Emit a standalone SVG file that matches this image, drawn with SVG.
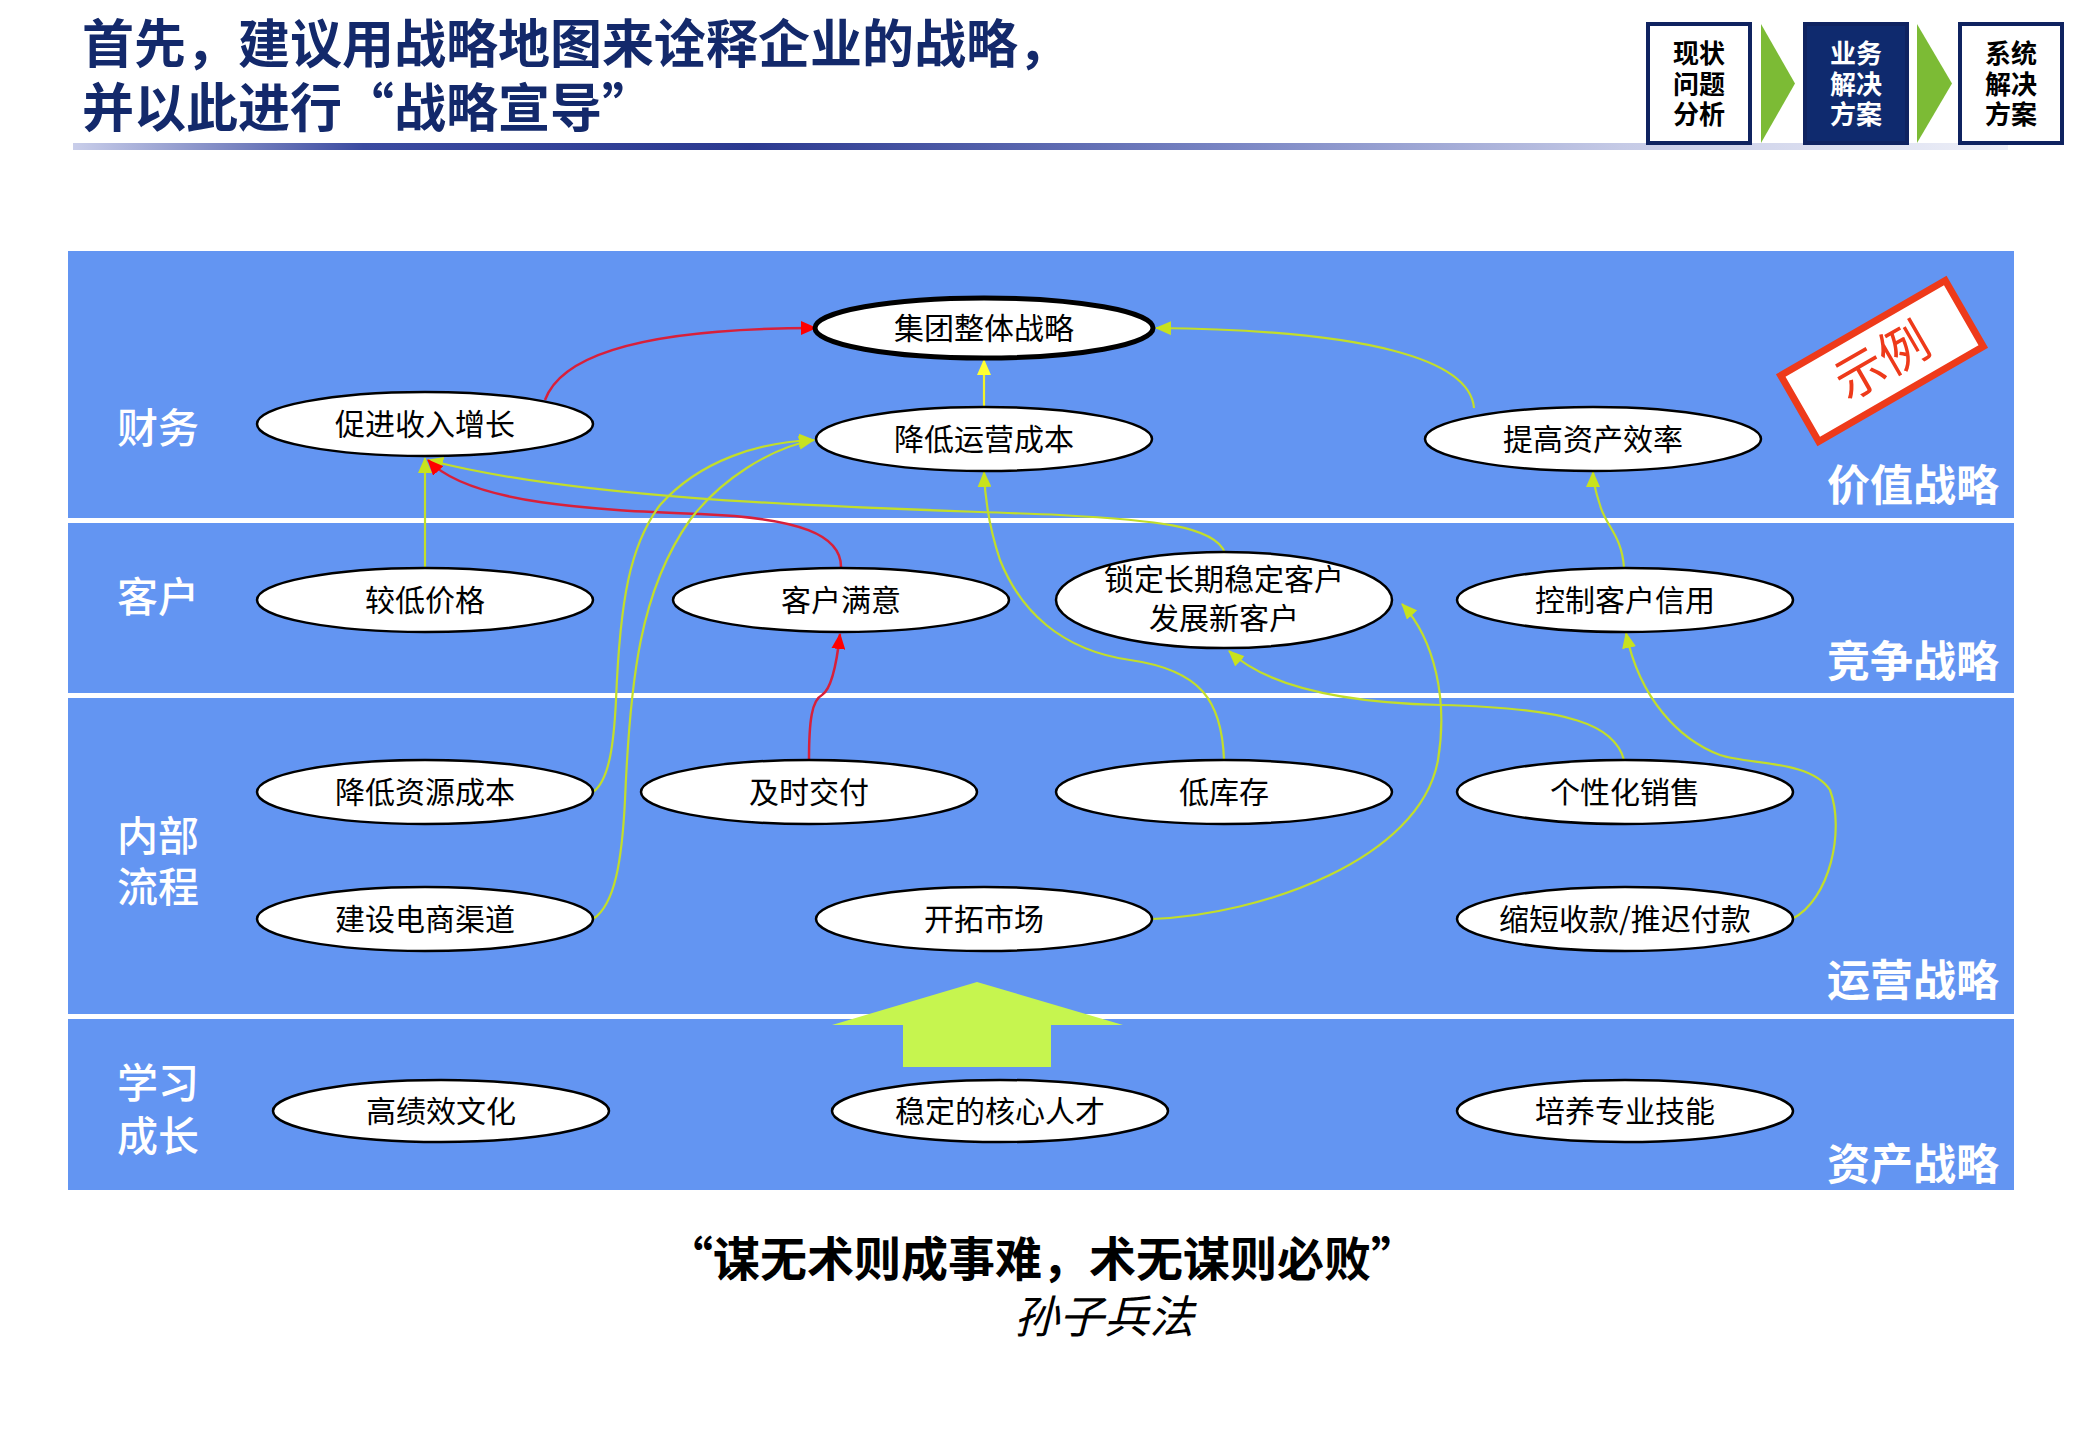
<svg xmlns="http://www.w3.org/2000/svg" width="2079" height="1440" viewBox="0 0 2079 1440">
<defs>
<style>
text{font-family:'Noto Sans CJK SC','Noto Sans',sans-serif}
.title{font-size:52px;font-weight:700;fill:#13296B}
.box{font-size:26px;font-weight:700;text-anchor:middle}
.band{fill:#6395F2}
.lane{font-size:41px;font-weight:500;fill:#ffffff}
.strat{font-size:43px;font-weight:700;fill:#ffffff;text-anchor:end}
.node ellipse{fill:#ffffff;stroke:#000000;stroke-width:2.5}
.node text{font-size:30px;fill:#000000;text-anchor:middle}
.yg{fill:none;stroke:#C2DE2A;stroke-width:2.2}
.rd{fill:none;stroke:#D8203A;stroke-width:2.5}
.ye{fill:none;stroke:#F2F22A;stroke-width:2.2}
</style>
<linearGradient id="rule" x1="0" y1="0" x2="1" y2="0">
<stop offset="0" stop-color="#C9CEEA"/>
<stop offset="0.15" stop-color="#3A4AA0"/>
<stop offset="0.35" stop-color="#2B3990"/>
<stop offset="0.6" stop-color="#7A86C4"/>
<stop offset="0.8" stop-color="#C5CAE6"/>
<stop offset="1" stop-color="#EEF0F8"/>
</linearGradient>
<marker id="aYG" markerUnits="userSpaceOnUse" markerWidth="16" markerHeight="14" refX="15" refY="7" orient="auto"><path d="M0,0 L16,7 L0,14 z" fill="#C8E21E"/></marker>
<marker id="aRD" markerUnits="userSpaceOnUse" markerWidth="16" markerHeight="14" refX="15" refY="7" orient="auto"><path d="M0,0 L16,7 L0,14 z" fill="#FF0000"/></marker>
<marker id="aYE" markerUnits="userSpaceOnUse" markerWidth="16" markerHeight="14" refX="15" refY="7" orient="auto"><path d="M0,0 L16,7 L0,14 z" fill="#FFFF33"/></marker>
</defs>
<rect width="2079" height="1440" fill="#ffffff"/>

<g id="header">
<text class="title" x="82" y="63">首先，建议用战略地图来诠释企业的战略，</text>
<text class="title" x="82" y="127">并以此进行“战略宣导”</text>
<rect x="73" y="143" width="1935" height="7" fill="url(#rule)"/>
</g>

<g id="steps">
<rect x="1648" y="24" width="102" height="119" fill="#ffffff" stroke="#0F2360" stroke-width="4"/>
<text class="box"><tspan x="1699" y="63">现状</tspan><tspan x="1699" y="94">问题</tspan><tspan x="1699" y="124">分析</tspan></text>
<polygon points="1761,24 1795,83.5 1761,143" fill="#7CBB35"/>
<rect x="1805" y="24" width="102" height="119" fill="#0F2A6E" stroke="#0F2360" stroke-width="4"/>
<text class="box" fill="#ffffff"><tspan x="1856" y="63">业务</tspan><tspan x="1856" y="94">解决</tspan><tspan x="1856" y="124">方案</tspan></text>
<polygon points="1917,24 1952,83.5 1917,143" fill="#7CBB35"/>
<rect x="1960" y="24" width="102" height="119" fill="#ffffff" stroke="#0F2360" stroke-width="4"/>
<text class="box"><tspan x="2011" y="63">系统</tspan><tspan x="2011" y="94">解决</tspan><tspan x="2011" y="124">方案</tspan></text>
</g>

<g id="bands">
<rect class="band" x="68" y="251" width="1946" height="267"/>
<rect class="band" x="68" y="523" width="1946" height="170"/>
<rect class="band" x="68" y="698" width="1946" height="316"/>
<rect class="band" x="68" y="1019" width="1946" height="171"/>
<text class="lane" x="117" y="443">财务</text>
<text class="lane" x="117" y="612">客户</text>
<text class="lane"><tspan x="117" y="851">内部</tspan><tspan x="117" y="902">流程</tspan></text>
<text class="lane"><tspan x="117" y="1098">学习</tspan><tspan x="117" y="1151">成长</tspan></text>
<text class="strat" x="1999" y="501">价值战略</text>
<text class="strat" x="1999" y="677">竞争战略</text>
<text class="strat" x="1999" y="996">运营战略</text>
<text class="strat" x="1999" y="1180">资产战略</text>
</g>

<g id="stamp" transform="translate(1882,361) rotate(-30)">
<rect x="-95" y="-38" width="190" height="76" fill="#ffffff" stroke="#EE3A1A" stroke-width="7"/>
<text x="0" y="18" font-size="50" fill="#EE3A1A" text-anchor="middle">示例</text>
</g>

<g id="bigarrow">
<polygon points="977,982 1123,1025 1051,1025 1051,1067 903,1067 903,1025 832,1025" fill="#C6F54F"/>
</g>

<g id="connectors">
<path class="rd" d="M545,400 C565,345 680,328 816,328" marker-end="url(#aRD)"/>
<path class="ye" d="M984,407 L984,360" marker-end="url(#aYE)"/>
<path class="yg" d="M1474,408 C1470,360 1370,330 1156,328" marker-end="url(#aYG)"/>
<path class="yg" d="M425,568 L425,458" marker-end="url(#aYG)"/>
<path class="yg" d="M1225,553 C1215,525 1150,520 1060,515 C900,508 600,505 428,460" marker-end="url(#aYG)"/>
<path class="rd" d="M841,568 C842,535 800,518 700,514 C600,510 470,505 428,460" marker-end="url(#aRD)"/>
<path class="yg" d="M593,792 C610,780 614,740 616,700 C620,600 630,545 660,505 C700,460 760,442 814,440" marker-end="url(#aYG)"/>
<path class="yg" d="M593,919 C615,905 622,860 625,800 C630,680 640,590 690,520 C720,480 770,448 814,440" marker-end="url(#aYG)"/>
<path class="yg" d="M1224,760 C1222,700 1200,670 1130,660 C1060,650 1020,610 1000,560 C990,530 985,500 984,472" marker-end="url(#aYG)"/>
<path class="yg" d="M1152,919 C1260,915 1420,860 1438,760 C1448,700 1435,640 1402,604" marker-end="url(#aYG)"/>
<path class="yg" d="M1624,760 C1615,725 1570,708 1440,705 C1320,702 1260,680 1229,651" marker-end="url(#aYG)"/>
<path class="yg" d="M1624,568 C1622,535 1605,525 1600,505 C1595,490 1593,482 1593,472" marker-end="url(#aYG)"/>
<path class="yg" d="M1792,919 C1830,900 1845,830 1830,790 C1810,760 1750,765 1720,755 C1680,740 1640,700 1626,633" marker-end="url(#aYG)"/>
<path class="rd" d="M809,760 C809,720 812,700 822,695 C830,690 836,670 840,634" marker-end="url(#aRD)"/>
</g>

<g id="n-jituan" class="node"><ellipse cx="984" cy="328" rx="169" ry="30" style="stroke-width:5"/><text x="984" y="339">集团整体战略</text></g>
<g id="n-cujin" class="node"><ellipse cx="425" cy="424" rx="168" ry="32"/><text x="425" y="435">促进收入增长</text></g>
<g id="n-jiangdiyunying" class="node"><ellipse cx="984" cy="439" rx="168" ry="32"/><text x="984" y="450">降低运营成本</text></g>
<g id="n-tigao" class="node"><ellipse cx="1593" cy="439" rx="168" ry="32"/><text x="1593" y="450">提高资产效率</text></g>
<g id="n-jiaodi" class="node"><ellipse cx="425" cy="600" rx="168" ry="32"/><text x="425" y="611">较低价格</text></g>
<g id="n-manyi" class="node"><ellipse cx="841" cy="600" rx="168" ry="32"/><text x="841" y="611">客户满意</text></g>
<g id="n-suoding" class="node"><ellipse cx="1224" cy="600" rx="168" ry="48"/><text><tspan x="1224" y="590">锁定长期稳定客户</tspan><tspan x="1224" y="629">发展新客户</tspan></text></g>
<g id="n-kongzhi" class="node"><ellipse cx="1625" cy="600" rx="168" ry="32"/><text x="1625" y="611">控制客户信用</text></g>
<g id="n-ziyuan" class="node"><ellipse cx="425" cy="792" rx="168" ry="32"/><text x="425" y="803">降低资源成本</text></g>
<g id="n-jishi" class="node"><ellipse cx="809" cy="792" rx="168" ry="32"/><text x="809" y="803">及时交付</text></g>
<g id="n-kucun" class="node"><ellipse cx="1224" cy="792" rx="168" ry="32"/><text x="1224" y="803">低库存</text></g>
<g id="n-gexing" class="node"><ellipse cx="1625" cy="792" rx="168" ry="32"/><text x="1625" y="803">个性化销售</text></g>
<g id="n-dianshang" class="node"><ellipse cx="425" cy="919" rx="168" ry="32"/><text x="425" y="930">建设电商渠道</text></g>
<g id="n-kaituo" class="node"><ellipse cx="984" cy="919" rx="168" ry="32"/><text x="984" y="930">开拓市场</text></g>
<g id="n-suoduan" class="node"><ellipse cx="1625" cy="919" rx="168" ry="32"/><text x="1625" y="930">缩短收款/推迟付款</text></g>
<g id="n-gaojixiao" class="node"><ellipse cx="441" cy="1111" rx="168" ry="31"/><text x="441" y="1122">高绩效文化</text></g>
<g id="n-rencai" class="node"><ellipse cx="1000" cy="1111" rx="168" ry="31"/><text x="1000" y="1122">稳定的核心人才</text></g>
<g id="n-jineng" class="node"><ellipse cx="1625" cy="1111" rx="168" ry="31"/><text x="1625" y="1122">培养专业技能</text></g>

<g id="quote">
<text x="1042" y="1276" font-size="47" font-weight="700" text-anchor="middle" fill="#000000">“谋无术则成事难，术无谋则必败”</text>
<text x="1104" y="1333" font-size="45" font-style="italic" text-anchor="middle" fill="#000000">孙子兵法</text>
</g>
</svg>
